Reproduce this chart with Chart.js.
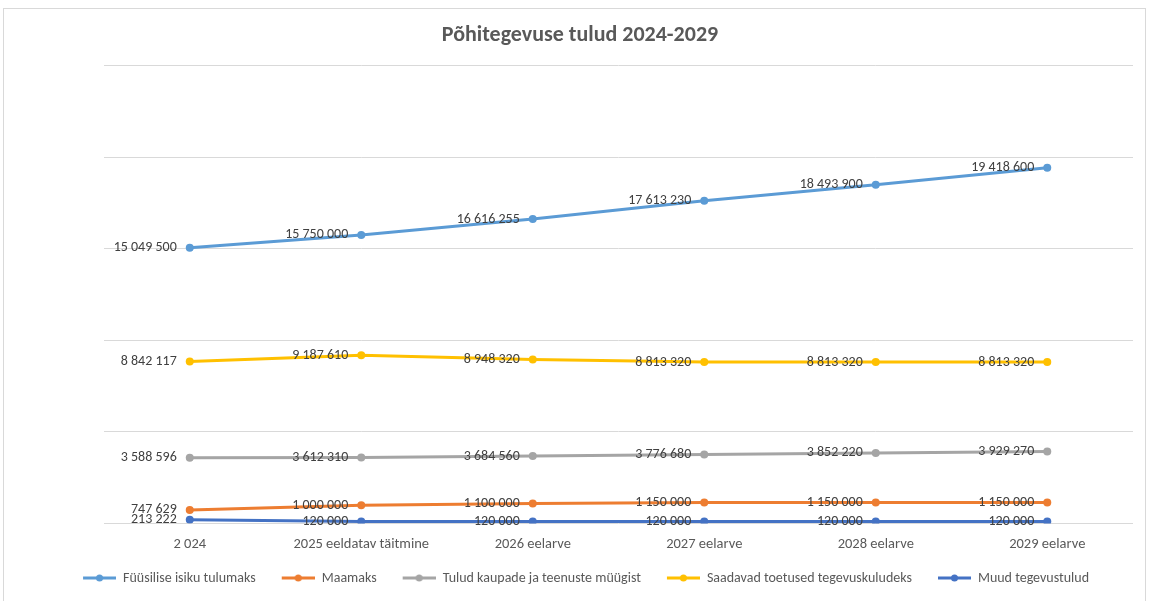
<!DOCTYPE html>
<html lang="et">
<head>
<meta charset="utf-8">
<title>Põhitegevuse tulud 2024-2029</title>
<script src="https://cdn.jsdelivr.net/npm/chart.js@4"></script>
<style>
  html, body { margin: 0; padding: 0; background: #fff; }
  #frame { position: absolute; left: 3px; top: 8px; width: 1143px; height: 600px; border: 1px solid #d9d9d9; box-sizing: border-box; }
  #wrap { position: absolute; left: 0; top: 0; width: 1150px; height: 601px; }
</style>
</head>
<body>
<div id="frame"></div>
<div id="wrap"><canvas id="chart" width="1150" height="601"></canvas></div>
<script>
const years = ['2 024', '2025 eeldatav täitmine', '2026 eelarve', '2027 eelarve', '2028 eelarve', '2029 eelarve'];

const fyysiliseIsikuTulumaks = [15049500, 15750000, 16616255, 17613230, 18493900, 19418600];
const maamaks = [747629, 1000000, 1100000, 1150000, 1150000, 1150000];
const kaupadeTeenusteMyyk = [3588596, 3612310, 3684560, 3776680, 3852220, 3929270];
const saadavadToetused = [8842117, 9187610, 8948320, 8813320, 8813320, 8813320];
const muudTegevustulud = [213222, 120000, 120000, 120000, 120000, 120000];

const yTicks = [0, 5000000, 10000000, 15000000, 20000000, 25000000];

const fontFamily = "Carlito, 'Liberation Sans', Arial, sans-serif";

function fmt(v) {
  return String(v).replace(/\B(?=(\d{3})+(?!\d))/g, ' ');
}

// line + dot icon for the legend, with a blank strip on the left to space the items out
function legendIcon(color) {
  const c = document.createElement('canvas');
  c.width = 45;
  c.height = 8;
  const g = c.getContext('2d');
  g.strokeStyle = color;
  g.lineWidth = 3;
  g.beginPath();
  g.moveTo(12, 4);
  g.lineTo(45, 4);
  g.stroke();
  g.fillStyle = color;
  g.beginPath();
  g.arc(28.5, 4, 3.5, 0, Math.PI * 2);
  g.fill();
  return c;
}

const valueLabels = {
  id: 'valueLabels',
  afterDatasetsDraw(chart) {
    const ctx = chart.ctx;
    ctx.save();
    ctx.font = "14px " + fontFamily;
    ctx.fillStyle = '#404040';
    ctx.textAlign = 'right';
    ctx.textBaseline = 'middle';
    chart.data.datasets.forEach((ds, i) => {
      const meta = chart.getDatasetMeta(i);
      meta.data.forEach((pt, j) => {
        ctx.fillText(fmt(ds.data[j]), pt.x - 13, pt.y);
      });
    });
    ctx.restore();
  }
};

function series(label, data, color) {
  return {
    label: label,
    data: data,
    borderColor: color,
    backgroundColor: color,
    borderWidth: 3,
    pointRadius: 4,
    pointHoverRadius: 4,
    pointBorderWidth: 0,
    tension: 0,
    fill: false
  };
}

const ctx = document.getElementById('chart').getContext('2d');

new Chart(ctx, {
  type: 'line',
  data: {
    labels: years,
    datasets: [
      series('Füüsilise isiku tulumaks', fyysiliseIsikuTulumaks, '#5B9BD5'),
      series('Maamaks', maamaks, '#ED7D31'),
      series('Tulud kaupade ja teenuste müügist', kaupadeTeenusteMyyk, '#A5A5A5'),
      series('Saadavad toetused tegevuskuludeks', saadavadToetused, '#FFC000'),
      series('Muud tegevustulud', muudTegevustulud, '#4472C4')
    ]
  },
  options: {
    responsive: false,
    animation: false,
    layout: { padding: { left: 10, right: 0, top: 0, bottom: 6 } },
    plugins: {
      title: {
        display: true,
        text: 'Põhitegevuse tulud 2024-2029',
        color: '#595959',
        font: { family: fontFamily, size: 22, weight: 'bold' },
        padding: { top: 22, bottom: 17 }
      },
      legend: {
        position: 'bottom',
        labels: {
          color: '#595959',
          font: { family: fontFamily, size: 14 },
          usePointStyle: true,
          pointStyleWidth: 45,
          boxHeight: 8,
          padding: 14,
          generateLabels(chart) {
            const items = Chart.defaults.plugins.legend.labels.generateLabels(chart);
            items.forEach(it => {
              it.pointStyle = legendIcon(chart.data.datasets[it.datasetIndex].borderColor);
            });
            return items;
          }
        }
      },
      tooltip: { enabled: false }
    },
    scales: {
      x: {
        offset: true,
        grid: { display: false },
        border: { display: false },
        ticks: {
          color: '#595959',
          font: { family: fontFamily, size: 14.5 },
          padding: 4,
          maxRotation: 0,
          autoSkip: false
        }
      },
      y: {
        min: 0,
        max: 25000000,
        afterBuildTicks(axis) {
          axis.ticks = yTicks.map(v => ({ value: v }));
        },
        afterFit(axis) { axis.width = 94; },
        grid: { color: '#d9d9d9', lineWidth: 1, drawTicks: false },
        border: { display: false },
        ticks: { display: false }
      },
      yRight: {
        position: 'right',
        min: 0,
        max: 25000000,
        afterFit(axis) { axis.width = 17; },
        grid: { display: false },
        border: { display: false },
        ticks: { display: false }
      }
    }
  },
  plugins: [valueLabels]
});
</script>
</body>
</html>
